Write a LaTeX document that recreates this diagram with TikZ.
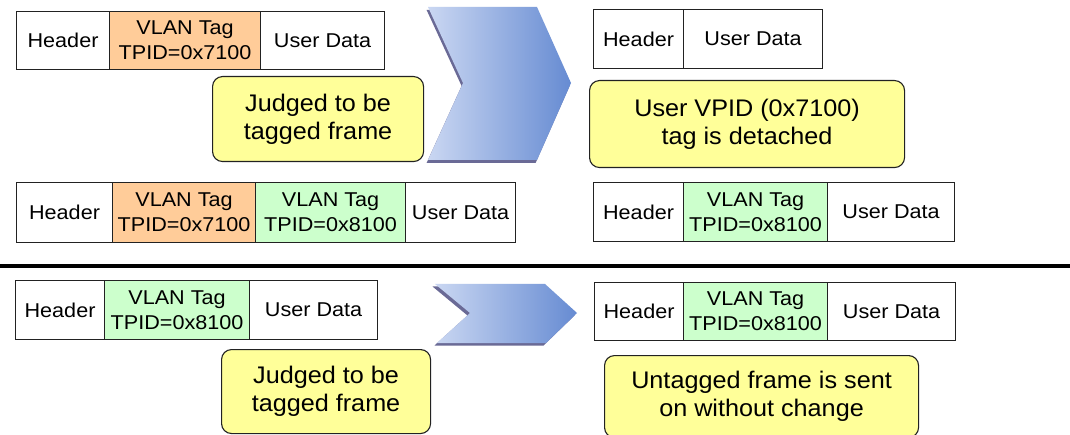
\documentclass[tikz,border=0pt]{standalone}
\usepackage{fontspec}
\newfontfamily\cellfont[FakeStretch=1.08]{Liberation Sans}
\newfontfamily\notefont[FakeStretch=1.05]{Liberation Sans}
\definecolor{tagorange}{HTML}{FFCC99}
\definecolor{taggreen}{HTML}{CCFFCC}
\definecolor{noteyellow}{HTML}{FFFF99}
\definecolor{framegray}{HTML}{222222}
\definecolor{chevlight}{RGB}{202,215,242}
\definecolor{chevdark}{RGB}{102,139,210}
\definecolor{chevshadow}{RGB}{106,106,150}
\begin{document}
\begin{tikzpicture}[x=1pt,y=-1pt,
  cell/.style={draw=framegray, line width=1.1pt, inner sep=0pt, anchor=north west,
    align=center, text=black, font={\cellfont\fontsize{20}{25}\selectfont}},
  note/.style={draw=framegray, line width=1.1pt, fill=noteyellow, rounded corners=10pt,
    inner sep=0pt, anchor=north west, align=center, text=black,
    font={\notefont\fontsize{24}{28}\selectfont}},
  orangetag/.style={cell, fill=tagorange},
  greentag/.style={cell, fill=taggreen},
  chevron/.style={left color=chevlight, right color=chevdark},
  chevronshadow/.style={fill=chevshadow},
  separator/.style={line width=4.5pt, black}]
\clip (0,0) rectangle (1070,435);
\fill[white] (0,0) rectangle (1070,435);

% ---- upper part: frame with user tag 0x7100 ----
\node[cell, minimum width=93pt, minimum height=58pt] (a1) at (16,11) {Header};
\node[orangetag, minimum width=151pt, minimum height=58pt] (a2) at (109,11) {VLAN Tag\\TPID=0x7100};
\node[cell, minimum width=124pt, minimum height=58pt] (a3) at (260,11) {User Data};

\node[note, minimum width=211pt, minimum height=85pt] (n1) at (212,76) {Judged to be\\tagged frame};

\node[cell, minimum width=96pt, minimum height=60pt] (b1) at (16,182) {Header};
\node[orangetag, minimum width=143pt, minimum height=60pt] (b2) at (112,182) {VLAN Tag\\TPID=0x7100};
\node[greentag, minimum width=150pt, minimum height=60pt] (b3) at (255,182) {VLAN Tag\\TPID=0x8100};
\node[cell, minimum width=110pt, minimum height=60pt] (b4) at (405,182) {User Data};

% upper chevron
\fill[chevronshadow] (426.6,10) -- (535.6,10) -- (569.6,86) -- (535.6,163) -- (426.6,163) -- (461.6,86) -- cycle;
\shade[chevron] (428,7) -- (537,7) -- (571,83) -- (537,160) -- (428,160) -- (463,83) -- cycle;

% results after the user tag is removed
\node[cell, minimum width=90pt, minimum height=59pt] (c1) at (593,9) {Header};
\node[cell, minimum width=139pt, minimum height=59pt] (c2) at (683,9) {User Data};

\node[note, minimum width=315pt, minimum height=87pt] (n2) at (589,80) {User VPID (0x7100)\\tag is detached};

\node[cell, minimum width=90pt, minimum height=59pt] (d1) at (593,182) {Header};
\node[greentag, minimum width=144pt, minimum height=59pt] (d2) at (683,182) {VLAN Tag\\TPID=0x8100};
\node[cell, minimum width=127pt, minimum height=59pt] (d3) at (827,182) {User Data};

% separator between the two cases
\draw[separator] (0,266) -- (1070,266);

% ---- lower part: frame with service tag 0x8100 only ----
\node[cell, minimum width=89pt, minimum height=59pt] (e1) at (15,280) {Header};
\node[greentag, minimum width=145pt, minimum height=59pt] (e2) at (104,280) {VLAN Tag\\TPID=0x8100};
\node[cell, minimum width=128pt, minimum height=59pt] (e3) at (249,280) {User Data};

\node[note, minimum width=209pt, minimum height=84pt] (n3) at (221,349) {Judged to be\\tagged frame};

% lower chevron
\fill[chevronshadow] (432.5,286.5) -- (542.5,286.5) -- (574.5,315.5) -- (543.5,345.5) -- (434.5,345.5) -- (467.5,315.5) -- cycle;
\shade[chevron] (435,284) -- (545,284) -- (577,313) -- (546,343) -- (437,343) -- (470,313) -- cycle;

\node[cell, minimum width=89pt, minimum height=58pt] (g1) at (594,282) {Header};
\node[greentag, minimum width=144pt, minimum height=58pt] (g2) at (683,282) {VLAN Tag\\TPID=0x8100};
\node[cell, minimum width=128pt, minimum height=58pt] (g3) at (827,282) {User Data};

\node[note, minimum width=314pt, minimum height=82pt] (n4) at (604,355) {Untagged frame is sent\\on without change};
\end{tikzpicture}
\end{document}
